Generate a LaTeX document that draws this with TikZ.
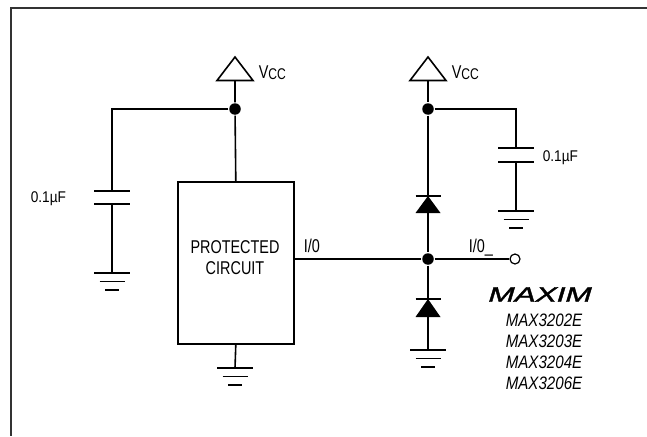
\documentclass[tikz,border=0pt]{standalone}
\usepackage{fontspec}
\setmainfont{Liberation Sans}[FakeStretch=0.78]
\newfontfamily\partfont{Liberation Sans}[FakeStretch=0.84]
\newfontfamily\logofont{Liberation Sans}[FakeStretch=1.5,FakeSlant=0.3,FakeBold=2]
\newfontfamily\valfont{Liberation Sans}[FakeStretch=0.88]

% ground, capacitor, diode and supply symbols
\newcommand{\gnd}[1]{%
  \draw (#1) ++(-18,0) -- ++(36,0);
  \draw (#1) ++(-12.5,8.5) -- ++(25,0);
  \draw (#1) ++(-7,17) -- ++(14,0);}
\newcommand{\capac}[2]{%
  \draw (#1) ++(-18,0) -- ++(36,0);
  \draw (#2) ++(-18,0) -- ++(36,0);}
\newcommand{\diode}[2]{%
  \draw (#1) ++(-12.5,0) -- ++(25,0);
  \fill (#1) -- ($(#2)+(12.5,0)$) -- ($(#2)+(-12.5,0)$) -- cycle;}
\newcommand{\supply}[1]{%
  \draw[line join=miter] (#1) -- ++(18,23.5) -- ++(-36,0) -- cycle;}
\usetikzlibrary{calc}

\begin{document}
\begin{tikzpicture}[x=1pt,y=-1pt,line width=1.6pt,
  lbl/.style={inner sep=0pt,font=\fontsize{18.5}{21}\selectfont},
  small/.style={inner sep=0pt,font=\valfont\fontsize{15.5}{17}\selectfont},
  part/.style={inner sep=0pt,font=\partfont\itshape\fontsize{18}{21}\selectfont},
  dot/.style={circle,fill,inner sep=0pt,minimum size=11.5pt}]
\useasboundingbox (0,0) rectangle (647,436);
% frame
\draw[line width=2pt,black!80] (647,8) -- (11,8) -- (11,436);

% left side
\coordinate (vl) at (235,57);
\coordinate (vlb) at (235,80.5);
\coordinate (cl) at (112,109);
\coordinate (cltop) at (112,191);
\coordinate (clbot) at (112,204);
\coordinate (gl) at (112,273);
\coordinate (gb) at (235,368);
\node[draw,line width=1.6pt,anchor=north west,inner sep=0pt,minimum width=116pt,minimum height=162pt] (pc) at (177,181) {};
\node[dot] (jl) at (235,109) {};
\supply{vl}
\draw (vlb) -- (jl) -- (pc.north);
\draw (jl) -- (cl) -- (cltop);
\capac{cltop}{clbot}
\draw (clbot) -- (gl);
\gnd{gl}
\draw (pc.south) -- (gb);
\gnd{gb}

% right side
\coordinate (vr) at (428,57);
\coordinate (vrb) at (428,80.5);
\coordinate (cr) at (516,109);
\coordinate (crtop) at (516,148);
\coordinate (crbot) at (516,162);
\coordinate (gr) at (516,211);
\coordinate (d1k) at (428,196);
\coordinate (d1a) at (428,213);
\coordinate (d2k) at (428,299);
\coordinate (d2a) at (428,317);
\coordinate (gd) at (428,350);
\node[dot] (jr) at (428,109) {};
\node[dot] (jio) at (428,259) {};
\node[circle,draw,fill=white,inner sep=0pt,minimum size=10pt,line width=1.2pt] (out) at (515,259) {};
\supply{vr}
\draw (vrb) -- (jr) -- (d1k);
\diode{d1k}{d1a}
\draw (d1a) -- (jio) -- (d2k);
\diode{d2k}{d2a}
\draw (d2a) -- (gd);
\gnd{gd}
\draw (jr) -- (cr) -- (crtop);
\capac{crtop}{crbot}
\draw (crbot) -- (gr);
\gnd{gr}
\draw (pc.east |- jio) -- (jio) -- (out);

% labels
\node[lbl,anchor=base west] (vcl) at (258,78) {V\raisebox{-1.5pt}{\fontsize{15.5}{15}\selectfont CC}};
\node[lbl,anchor=base west] (vcr) at (451,78) {V\raisebox{-1.5pt}{\fontsize{15.5}{15}\selectfont CC}};
\node[small,anchor=base west] (cll) at (30,202.5) {0.1µF};
\node[small,anchor=base west] (crl) at (542,161) {0.1µF};
\node[lbl,align=center] (pct) at (235,258) {PROTECTED\\CIRCUIT};
\node[lbl,anchor=base west] (iol) at (303,252) {I/0};
\node[lbl,anchor=base west] (ior) at (468,252) {I/0\_};
\node[inner sep=0pt,anchor=west,font=\logofont\fontsize{21}{21}\selectfont] (logo) at (486,294.5) {MAXIM};
\foreach \p [count=\i] in {3202,3203,3204,3206}
  \node[part,anchor=base west] (part\i) at (505,{305.5+21*\i}) {MAX\p E};
\end{tikzpicture}
\end{document}
